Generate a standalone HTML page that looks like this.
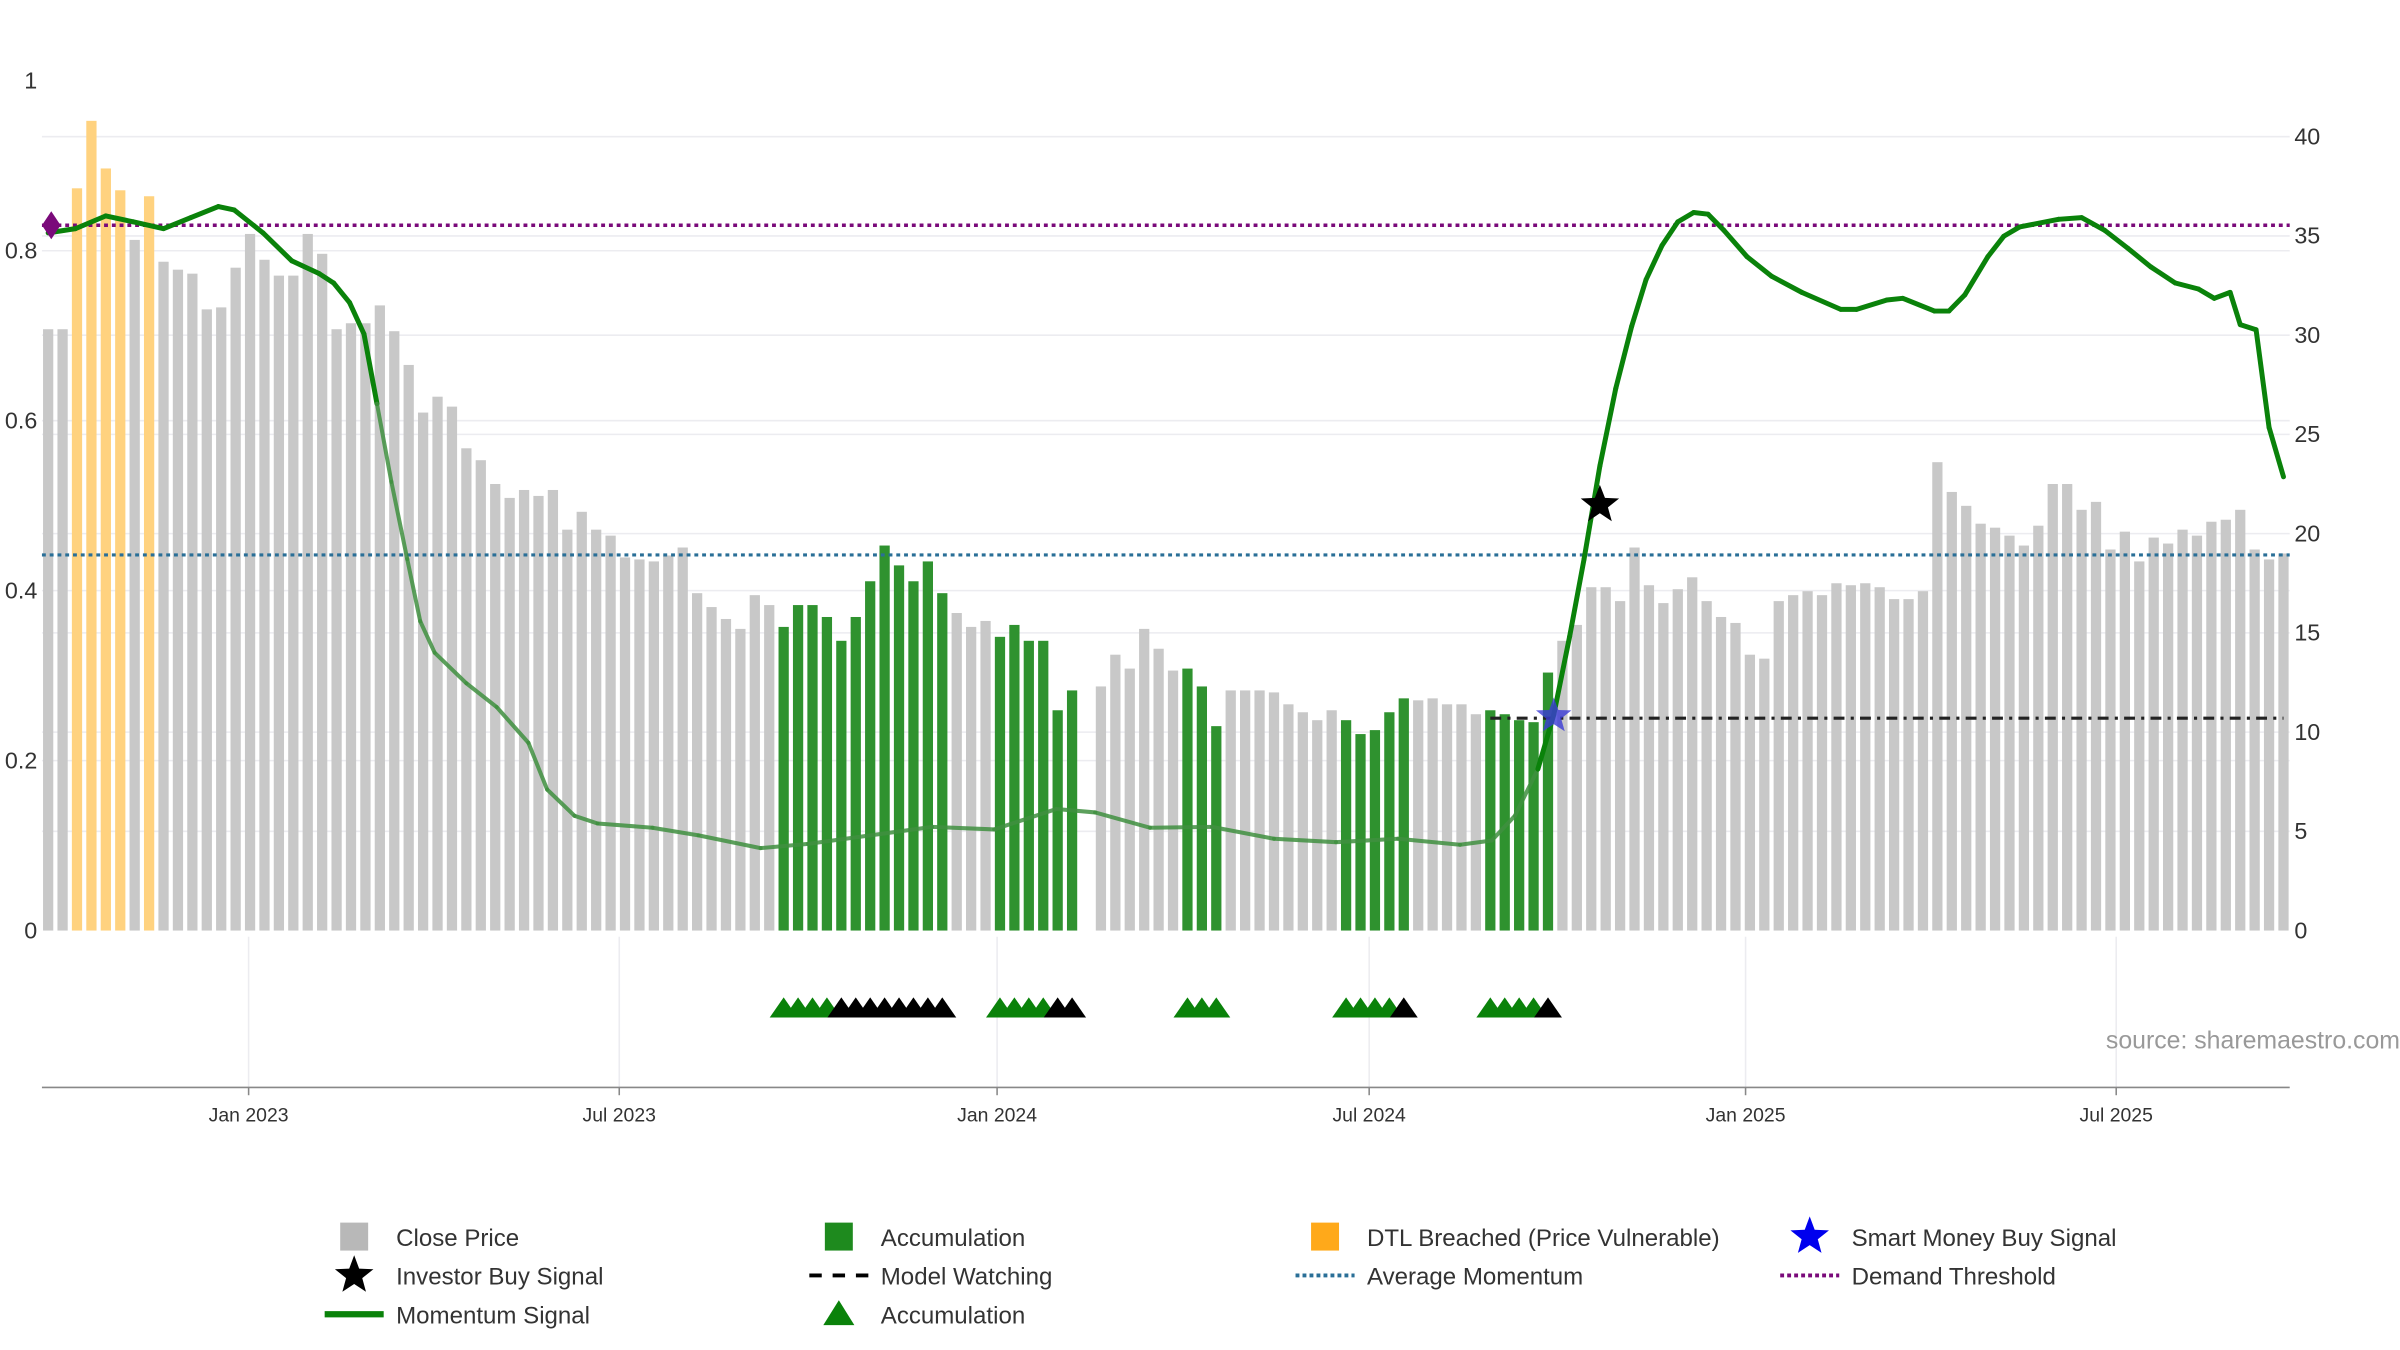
<!DOCTYPE html>
<html><head><meta charset="utf-8"><style>
html,body{margin:0;padding:0;background:#fff;}
svg{display:block;font-family:"Liberation Sans","DejaVu Sans",sans-serif;}
</style></head><body>
<svg id="chart" width="2400" height="1350" viewBox="0 0 1545 869" preserveAspectRatio="none" xmlns="http://www.w3.org/2000/svg">
<g id="grid"></g>
<g id="bars"></g>
<g id="lines"></g>
<g id="marks"></g>
<g id="axes"></g>
<g id="legend"></g>
</svg>
<script>
const prices=[30.3,30.3,37.4,40.8,38.4,37.3,34.8,37.0,33.7,33.3,33.1,31.3,31.4,33.4,35.1,33.8,33.0,33.0,35.1,34.1,30.3,30.6,30.6,31.5,30.2,28.5,26.1,26.9,26.4,24.3,23.7,22.5,21.8,22.2,21.9,22.2,20.2,21.1,20.2,19.9,18.8,18.7,18.6,18.9,19.3,17.0,16.3,15.7,15.2,16.9,16.4,15.3,16.4,16.4,15.8,14.6,15.8,17.6,19.4,18.4,17.6,18.6,17.0,16.0,15.3,15.6,14.8,15.4,14.6,14.6,11.1,12.1,0,12.3,13.9,13.2,15.2,14.2,13.1,13.2,12.3,10.3,12.1,12.1,12.1,12.0,11.4,11.0,10.6,11.1,10.6,9.9,10.1,11.0,11.7,11.6,11.7,11.4,11.4,10.9,11.1,10.9,10.6,10.5,13.0,14.6,15.4,17.3,17.3,16.6,19.3,17.4,16.5,17.2,17.8,16.6,15.8,15.5,13.9,13.7,16.6,16.9,17.1,16.9,17.5,17.4,17.5,17.3,16.7,16.7,17.1,23.6,22.1,21.4,20.5,20.3,19.9,19.4,20.4,22.5,22.5,21.2,21.6,19.2,20.1,18.6,19.8,19.5,20.2,19.9,20.6,20.7,21.2,19.2,18.7,19.0];
const accumIdx=[51,52,53,54,55,56,57,58,59,60,61,62,66,67,68,69,70,71,79,80,81,90,91,92,93,94,100,101,102,103,104];
const dtlIdx=[2,3,4,5,7];
const momIdx=[0,1.9,4.0,5.9,8.0,9.9,11.8,12.9,14.9,16.9,18.8,19.8,20.9,21.9,22.8,23.8,24.9,25.8,26.8,29.0,31.1,33.3,34.6,36.5,38.1,41.9,45.1,49.4,52.7,57.0,61.3,65.6,69.9,72.6,76.4,80.7,85.0,89.3,93.6,97.9,100.1,101.7,103.3,104.4,105.5,106.5,107.6,108.7,109.8,110.8,111.9,113.0,114.1,115.1,116.2,117.8,119.5,121.6,124.3,125.4,127.5,128.6,130.8,131.8,132.9,134.5,135.6,136.7,139.4,141.0,142.6,144.2,145.8,147.5,149.1,150.2,151.3,152.0,153.1,154.0,155.0];
const momVal=[.821,.826,.841,.834,.826,.839,.852,.848,.821,.788,.773,.762,.739,.702,.620,.528,.437,.364,.327,.291,.263,.221,.166,.135,.126,.121,.112,.097,.102,.112,.122,.119,.143,.139,.121,.122,.108,.104,.108,.101,.106,.135,.190,.254,.346,.437,.547,.638,.711,.766,.806,.834,.845,.843,.824,.793,.770,.751,.731,.731,.742,.744,.729,.729,.748,.793,.817,.828,.837,.839,.824,.803,.781,.762,.755,.744,.751,.713,.707,.592,.534];
const triGreen=[51,52,53,54,66,67,68,69,79,80,81,90,91,92,93,100,101,102,103];
const triBlack=[55,56,57,58,59,60,61,62,70,71,94,104];
const demandThreshold=0.83;
const avgMomentum=0.442;
const investorBuy={idx:107.6,val:0.501};
const smartMoney={idx:104.4,price:10.8};
const modelWatch={from:100,to:155,price:10.7};
const leftTicks=[0,0.2,0.4,0.6,0.8,1];
const leftTickLabels=["0","0.2","0.4","0.6","0.8","1"];
const rightTicks=[0,5,10,15,20,25,30,35,40];
const dateTicks=["Jan 2023","Jul 2023","Jan 2024","Jul 2024","Jan 2025","Jul 2025"];
const dateTickIdx=[13.9,39.6,65.8,91.6,117.7,143.4];

const NS="http://www.w3.org/2000/svg";
const X0=31,DX=(1470-31)/155,YB=599;
const xI=i=>X0+i*DX;
const yL=v=>YB-v*547;
const yR=p=>YB-p*12.775;
function mk(tag,attrs,parent){const e=document.createElementNS(NS,tag);for(const k in attrs)e.setAttribute(k,attrs[k]);parent.appendChild(e);return e;}
const G=id=>document.getElementById(id);
leftTicks.forEach(v=>{if(v>0&&v<1){const l=mk('line',{x1:27,x2:1474,y1:yL(v),y2:yL(v),stroke:'#ececf0','stroke-width':1},G('grid'));}});
rightTicks.forEach(v=>{if(v>0){const l=mk('line',{x1:27,x2:1474,y1:yR(v),y2:yR(v),stroke:'#ececf0','stroke-width':1},G('grid'));}});
dateTickIdx.forEach(i=>{const l=mk('line',{x1:xI(i),x2:xI(i),y1:603,y2:700,stroke:'#ececf0','stroke-width':1},G('grid'));});
prices.forEach((p,i)=>{if(p<=0)return;let c='#c8c8c8',nm='close-price-bar';
 if(accumIdx.includes(i)){c='#2f922f';nm='accumulation-bar';}
 if(dtlIdx.includes(i)){c='#ffd27f';nm='dtl-breached-bar';}
 const r=mk('rect',{x:xI(i)-3.3,y:yR(p),width:6.6,height:YB-yR(p),fill:c},G('bars'));
 
 });
let l=mk('line',{x1:27,x2:1474,y1:yL(demandThreshold),y2:yL(demandThreshold),stroke:'#7a0a7a','stroke-width':2.2,'stroke-dasharray':'2.5 2.5'},G('lines'));

l=mk('line',{x1:27,x2:1474,y1:yL(avgMomentum),y2:yL(avgMomentum),stroke:'#2a6f97','stroke-width':2,'stroke-dasharray':'2.5 2.5'},G('lines'));

l=mk('line',{x1:xI(modelWatch.from),x2:xI(modelWatch.to),y1:yR(modelWatch.price),y2:yR(modelWatch.price),stroke:'#222','stroke-width':2,'stroke-dasharray':'7 4 2 4'},G('lines'));

for(let k=0;k<momIdx.length-1;k++){const faded=(momIdx[k]>=22.5&&momIdx[k+1]<=103.4);
 const s=mk('line',{x1:xI(momIdx[k]),y1:yL(momVal[k]),x2:xI(momIdx[k+1]),y2:yL(momVal[k+1]),stroke:faded?'#3f8f3f':'#0a820a','stroke-width':faded?2.6:3.2,'stroke-linecap':'round','stroke-opacity':faded?0.85:1},G('lines'));
 
 }
function star(cx,cy,R,fill,op){const pts=[];for(let k=0;k<10;k++){const a=-Math.PI/2+k*Math.PI/5,r=k%2?R*0.42:R;pts.push((cx+r*Math.cos(a)).toFixed(1)+','+(cy+r*Math.sin(a)).toFixed(1));}return mk('polygon',{points:pts.join(' '),fill:fill,'fill-opacity':op},G('marks'));}
let m=star(xI(smartMoney.idx),yR(smartMoney.price),12,'#3b3bd6',0.8);

m=star(xI(investorBuy.idx),yL(investorBuy.val),13,'#000',1);

const dy=yL(demandThreshold);
m=mk('polygon',{points:`${27},${dy} ${33},${dy-9} ${39},${dy} ${33},${dy+9}`,fill:'#7a0a7a'},G('marks'));

function tri(i,c,nm){const x=xI(i);const t=mk('polygon',{points:`${x-9},655 ${x},642 ${x+9},655`,fill:c},G('marks'));}
triGreen.forEach(i=>tri(i,'#0a820a','accumulation-triangle'));
triBlack.forEach(i=>tri(i,'#000','black-signal-triangle'));
const ax=G('axes');
l=mk('line',{x1:27,x2:1474,y1:700,y2:700,stroke:'#888','stroke-width':1},ax);
leftTicks.forEach((v,k)=>{const t=mk('text',{x:24,y:yL(v)+5,'text-anchor':'end','font-size':15,fill:'#333'},ax);t.textContent=leftTickLabels[k];});
rightTicks.forEach(v=>{const t=mk('text',{x:1477,y:yR(v)+5,'font-size':15,fill:'#333'},ax);t.textContent=String(v);});
dateTicks.forEach((s,k)=>{const x=xI(dateTickIdx[k]);const tk=mk('line',{x1:x,x2:x,y1:700,y2:705,stroke:'#888'},ax);
 const t=mk('text',{x:x,y:722,'text-anchor':'middle','font-size':12.5,fill:'#333'},ax);t.textContent=s;});
let src=mk('text',{x:1545,y:675,'text-anchor':'end','font-size':16,fill:'#999'},ax);src.textContent='source: sharemaestro.com';

const lg=G('legend');
const items=[
 [228,796,'rect','#b8b8b8','Close Price'],[540,796,'rect','#1e8a1e','Accumulation'],[853,796,'rect','#ffa91a','DTL Breached (Price Vulnerable)'],[1165,796,'star','#0000ee','Smart Money Buy Signal'],
 [228,821,'star','#000','Investor Buy Signal'],[540,821,'dash','#000','Model Watching'],[853,821,'dot','#2a6f97','Average Momentum'],[1165,821,'dot','#7a0a7a','Demand Threshold'],
 [228,846,'line','#0a820a','Momentum Signal'],[540,846,'tri','#0a820a','Accumulation']];
items.forEach(it=>{const [x,y,kind,c,label]=it;let e;
 if(kind==='rect')e=mk('rect',{x:x-9,y:y-9,width:18,height:18,fill:c},lg);
 else if(kind==='star'){e=star(x,y,13,c,1);lg.appendChild(e);}
 else if(kind==='dash')e=mk('line',{x1:x-19,x2:x+19,y1:y,y2:y,stroke:c,'stroke-width':2.5,'stroke-dasharray':'8 7'},lg);
 else if(kind==='dot')e=mk('line',{x1:x-19,x2:x+19,y1:y,y2:y,stroke:c,'stroke-width':2.5,'stroke-dasharray':'2.5 2'},lg);
 else if(kind==='line')e=mk('line',{x1:x-19,x2:x+19,y1:y,y2:y,stroke:c,'stroke-width':4},lg);
 else e=mk('polygon',{points:`${x-10},${y+7} ${x},${y-9} ${x+10},${y+7}`,fill:c},lg);
 
 
 const t=mk('text',{x:x+27,y:y+6,'font-size':15.5,fill:'#333'},lg);t.textContent=label;
 
 });
</script>
</body></html>
